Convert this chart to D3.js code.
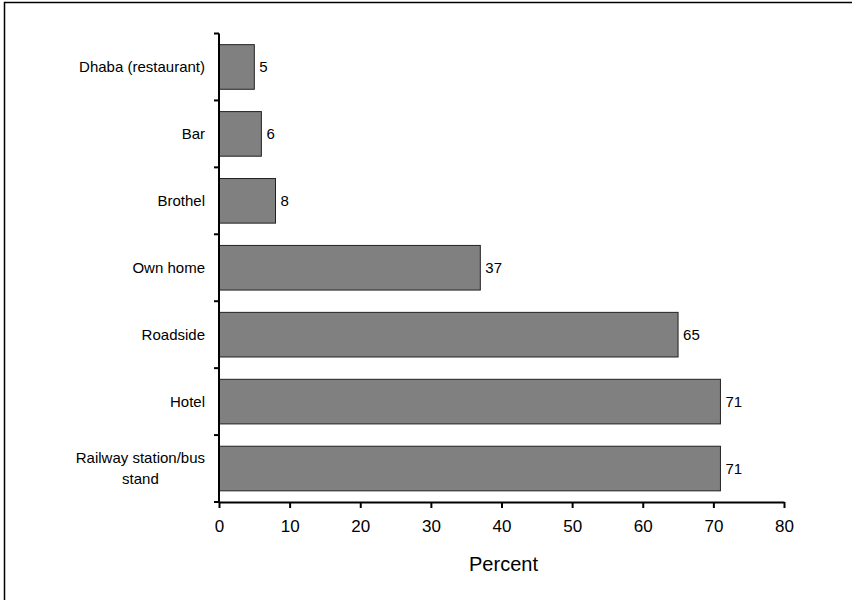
<!DOCTYPE html>
<html>
<head>
<meta charset="utf-8">
<script src="https://cdn.jsdelivr.net/npm/d3@7"></script>
<style>
  html, body { margin: 0; padding: 0; background: #fff; }
  svg { display: block; font-family: "Liberation Sans", Arial, sans-serif; }
</style>
</head>
<body>
<svg id="chart" width="852" height="600"></svg>
<script>
// Places where sex work takes place (percent of respondents)
const categories = [
  ["Dhaba (restaurant)"],
  ["Bar"],
  ["Brothel"],
  ["Own home"],
  ["Roadside"],
  ["Hotel"],
  ["Railway station/bus", "stand"]
];
const values = [5, 6, 8, 37, 65, 71, 71];
const xTicks = [0, 10, 20, 30, 40, 50, 60, 70, 80];
const xTitle = "Percent";

const svg = d3.select("#chart");

// outer frame
svg.append("rect")
  .attr("x", 4.5).attr("y", 2.5)
  .attr("width", 860).attr("height", 610)
  .attr("fill", "none").attr("stroke", "#000").attr("stroke-width", 1.5);

const plotLeft = 219, plotRight = 784, plotTop = 33.5, plotBottom = 502;

const x = d3.scaleLinear().domain([0, 80]).range([plotLeft, plotRight]);
const y = d3.scaleBand()
  .domain(d3.range(categories.length))
  .range([plotTop, plotBottom])
  .paddingInner(1 / 3)
  .paddingOuter(1 / 6);

// bars
svg.append("g").selectAll("rect")
  .data(values)
  .join("rect")
  .attr("x", x(0))
  .attr("y", (d, i) => y(i))
  .attr("width", d => x(d) - x(0))
  .attr("height", y.bandwidth())
  .attr("fill", "#808080")
  .attr("stroke", "#222")
  .attr("stroke-width", 1);

// value labels
svg.append("g").selectAll("text")
  .data(values)
  .join("text")
  .attr("x", d => x(d) + 5)
  .attr("y", (d, i) => y(i) + y.bandwidth() / 2)
  .attr("dy", "0.35em")
  .attr("font-size", 15)
  .attr("fill", "#000")
  .text(d => d);

// x axis
const xAxis = svg.append("g")
  .attr("transform", `translate(0,${plotBottom})`)
  .call(d3.axisBottom(x).tickValues(xTicks).tickSize(6).tickSizeOuter(0).tickPadding(12));
xAxis.select(".domain").attr("stroke", "#000").attr("stroke-width", 2);
xAxis.selectAll(".tick line").attr("stroke", "#000").attr("stroke-width", 2);
xAxis.selectAll(".tick text")
  .attr("font-size", 17)
  .attr("font-family", "Liberation Sans, Arial, sans-serif")
  .attr("fill", "#000");

// y axis line with ticks at band boundaries
const boundaries = d3.range(categories.length + 1).map(i => plotTop + i * y.step());
svg.append("line")
  .attr("x1", plotLeft).attr("x2", plotLeft)
  .attr("y1", plotTop).attr("y2", plotBottom + 1)
  .attr("stroke", "#000").attr("stroke-width", 2);
svg.append("g").selectAll("line")
  .data(boundaries)
  .join("line")
  .attr("x1", plotLeft - 5).attr("x2", plotLeft)
  .attr("y1", d => d).attr("y2", d => d)
  .attr("stroke", "#000").attr("stroke-width", 2);

// category labels: block right-aligned, lines centred within it
const labelRight = 205;
const lineH = 21;
const lab = svg.append("g").attr("font-size", 15).attr("fill", "#000");
categories.forEach((lines, i) => {
  const cy = y(i) + y.bandwidth() / 2;
  const t = lab.append("text").attr("text-anchor", "middle");
  lines.forEach((s, j) => {
    t.append("tspan")
      .attr("y", cy + (j - (lines.length - 1) / 2) * lineH)
      .attr("dy", "0.35em")
      .text(s);
  });
  const w = d3.max(t.selectAll("tspan").nodes(), n => n.getComputedTextLength());
  t.selectAll("tspan").attr("x", labelRight - w / 2);
});

// axis title
svg.append("text")
  .attr("x", (plotLeft + plotRight) / 2 + 2)
  .attr("y", 571)
  .attr("text-anchor", "middle")
  .attr("font-size", 20)
  .attr("fill", "#000")
  .text(xTitle);
</script>
</body>
</html>
